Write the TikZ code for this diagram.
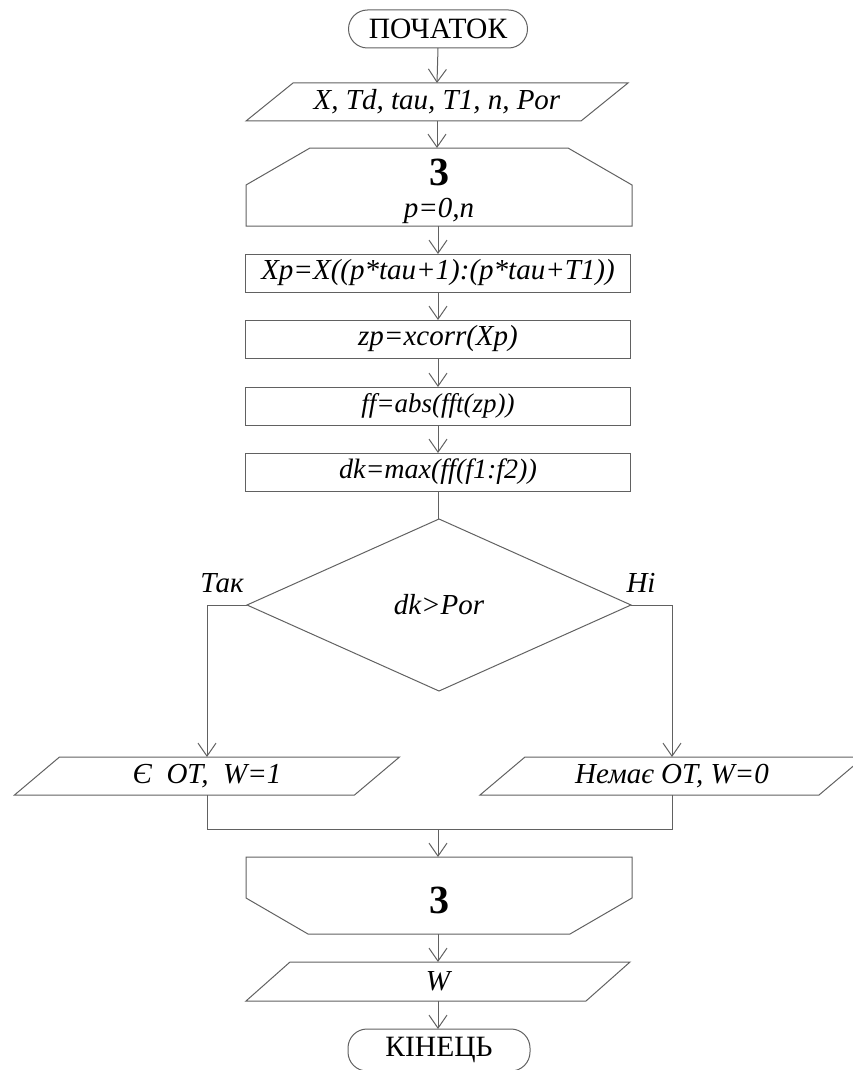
\documentclass[tikz,border=0pt]{standalone}
\usepackage{fontspec}
\setmainfont{Liberation Serif}
\usetikzlibrary{arrows.meta,calc}
\begin{document}
\begin{tikzpicture}[x=1pt,y=-1pt,
  ln/.style={draw=black!62,line width=1pt},
  arr/.style={ln,-{Straight Barb[length=13pt,width=18pt]}},
  it/.style={font=\fontsize{#1}{#1}\selectfont\itshape},
  bb/.style={inner sep=0pt,outer sep=0pt,minimum height=38,it=29},
  boxn/.style={bb,ln,minimum width=385},
  term/.style={inner sep=0pt,outer sep=0pt,ln,rounded corners=19,minimum height=38,font=\fontsize{29.5}{30}\selectfont},
  lbl/.style={inner sep=0pt,it=29},
  num/.style={inner sep=0pt,font=\fontsize{40}{40}\selectfont\bfseries}
]
\useasboundingbox (0,0) rectangle (853,1070);

% start
\node[term,minimum width=179] (start) at (438,29) {ПОЧАТОК};

% input
\node[bb,minimum width=382] (in) at (437,102) {X, Td, tau, T1, n, Por};
\draw[ln] ([xshift=47]in.north west) -- (in.north east) -- ([xshift=-47]in.south east) -- (in.south west) -- cycle;

% loop start
\node[bb,minimum width=386,minimum height=78] (l1) at (439,187) {};
\draw[ln] ([xshift=64]l1.north west) -- ([xshift=-64]l1.north east) -- ([yshift=-37]l1.north east) -- (l1.south east) -- (l1.south west) -- ([yshift=-37]l1.north west) -- cycle;
\node[num] (l1n) at (439,172) {3};
\node[lbl] (l1c) at (439,211) {p=0,n};

% process boxes
\node[boxn] (b1) at (438,273) {Xp=X((p*tau+1):(p*tau+T1))};
\node[boxn] (b2) at (438,339) {zp=xcorr(Xp)};
\node[boxn,it=27] (b3) at (438,406) {ff=abs(fft(zp))};
\node[boxn,it=28] (b4) at (438,472) {dk=max(ff(f1:f2))};

% decision
\node[bb,minimum width=384,minimum height=172] (d) at (439,605) {dk>Por};
\draw[ln] (d.north) -- (d.east) -- (d.south) -- (d.west) -- cycle;
\node[lbl,anchor=base] (yesl) at (222,592) {Так};
\node[lbl,anchor=base] (nol) at (641,592) {Ні};

% outputs
\node[bb,minimum width=385] (yes) at (207,776) {Є\ \ OT,\ \ W=1};
\draw[ln] ([xshift=45]yes.north west) -- (yes.north east) -- ([xshift=-45]yes.south east) -- (yes.south west) -- cycle;
\node[bb,minimum width=384] (no) at (672,776) {Немає OT, W=0};
\draw[ln] ([xshift=45]no.north west) -- (no.north east) -- ([xshift=-45]no.south east) -- (no.south west) -- cycle;

\coordinate (m) at (438,829);

% loop end
\node[bb,minimum width=386,minimum height=77] (l2) at (439,895.5) {};
\draw[ln] (l2.north west) -- (l2.north east) -- ([yshift=36]l2.south east) -- ([xshift=-62]l2.south east) -- ([xshift=62]l2.south west) -- ([yshift=36]l2.south west) -- cycle;
\node[num] (l2n) at (439,900) {3};

% output W
\node[bb,minimum width=384,minimum height=39] (out) at (438,981.5) {W};
\draw[ln] ([xshift=44]out.north west) -- (out.north east) -- ([xshift=-44]out.south east) -- (out.south west) -- cycle;

% end
\node[term,minimum width=182,minimum height=42] (end) at (439,1050) {КІНЕЦЬ};

% connectors
\draw[arr] (start.south) -- (in.north);
\draw[arr] (in.south) -- (in.south |- l1.north);
\draw[arr] (l1.south -| b1.north) -- (b1.north);
\draw[arr] (b1.south) -- (b2.north);
\draw[arr] (b2.south) -- (b3.north);
\draw[arr] (b3.south) -- (b4.north);
\draw[ln] (b4.south) -- (b4.south |- d.north);
\draw[arr] (d.west) -| (yes.north);
\draw[arr] (d.east) -| (no.north);
\draw[ln] (yes.south) |- (m) -| (no.south);
\draw[arr] (m) -- (m |- l2.north);
\draw[arr] (l2.south -| m) -- (m |- out.north);
\draw[arr] (out.south) -- (out.south |- end.north);
\end{tikzpicture}
\end{document}
